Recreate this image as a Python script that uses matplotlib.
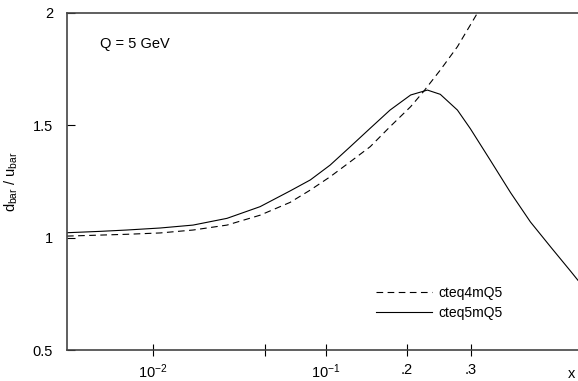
import numpy as np
import matplotlib
matplotlib.use("Agg")
import matplotlib.pyplot as plt

plt.rcParams['font.family'] = ['Liberation Sans', 'DejaVu Sans']
plt.rcParams['mathtext.default'] = 'regular'
plt.rcParams['axes.unicode_minus'] = False

# d_bar/u_bar at Q = 5 GeV
x_cteq4m = [0.0025, 0.0066, 0.0112, 0.0185, 0.0302, 0.047, 0.0677, 0.0848,
            0.104, 0.126, 0.15, 0.176, 0.205, 0.224, 0.25, 0.2775, 0.304, 0.32]
r_cteq4m = [1.007, 1.015, 1.021, 1.034, 1.056, 1.10, 1.157, 1.212,
            1.271, 1.338, 1.405, 1.494, 1.583, 1.65, 1.746, 1.85, 1.969, 2.04]

x_cteq5m = [0.0025, 0.00428, 0.0066, 0.0112, 0.0185, 0.0302, 0.047, 0.0677,
            0.0848, 0.104, 0.126, 0.15, 0.176, 0.205, 0.23, 0.25, 0.2775,
            0.299, 0.333, 0.369, 0.405, 0.444, 0.481, 0.495]
r_cteq5m = [1.022, 1.028, 1.034, 1.043, 1.056, 1.086, 1.138, 1.208,
            1.257, 1.323, 1.405, 1.487, 1.568, 1.635, 1.657, 1.638, 1.568,
            1.485, 1.345, 1.20, 1.07, 0.955, 0.85, 0.81]

xticks = [0.01, 0.05, 0.1, 0.2, 0.3]
xticklabels = ['$10^{-2}$', '', '$10^{-1}$', '.2', '.3']
yticks = [0.5, 1, 1.5, 2]
yticklabels = ['0.5', '1', '1.5', '2']

# x axis: log10(x) + a*x (log at small x, stretched at large x)
A = 2.87
grid = np.logspace(-5, 0.3, 6000)


def fwd(x):
    x = np.clip(np.asarray(x, dtype=float), 1e-6, None)
    return np.log10(x) + A * x


def inv(y):
    return np.interp(y, fwd(grid), grid)


fig = plt.figure(figsize=(5.78, 3.81), dpi=100)
ax = fig.add_axes([67/578, 1 - 350/381, 1 - 67/578, (350 - 13)/381])

ax.set_xscale('function', functions=(fwd, inv))
ax.plot(x_cteq4m, r_cteq4m, color='black', lw=0.8, ls=(0, (6, 4)), label='cteq4mQ5')
ax.plot(x_cteq5m, r_cteq5m, color='black', lw=0.8, label='cteq5mQ5')

ax.set_xlim(0.0025, 0.495)
ax.set_ylim(0.5, 2)
ax.set_xticks(xticks)
ax.set_xticklabels(xticklabels)
ax.xaxis.set_minor_locator(matplotlib.ticker.NullLocator())
ax.set_yticks(yticks)
ax.set_yticklabels(yticklabels)
ax.tick_params(axis='x', direction='inout', length=8, width=0.8, pad=5, labelsize=10.5)
ax.tick_params(axis='y', direction='in', length=6, width=0.8, pad=10, labelsize=10.5)

ax.spines['right'].set_visible(False)
for s in ['left', 'bottom', 'top']:
    ax.spines[s].set_color('#444444')
    ax.spines[s].set_linewidth(1.2)

ax.set_ylabel('$d_{bar}$ / $u_{bar}$', fontsize=10.5, labelpad=9)
ax.text(100/578, 1 - 44/381, 'Q = 5 GeV', transform=fig.transFigure,
        fontsize=10.5, va='center', ha='left')
fig.text(568/578, 1 - 367/381, 'x', fontsize=10.5, va='top', ha='left')

ax.legend(loc='upper left', bbox_to_anchor=(376/578, 1 - 286/381),
          bbox_transform=fig.transFigure, frameon=False, fontsize=10,
          handlelength=4.0, handletextpad=0.5, labelspacing=0.45,
          borderpad=0, borderaxespad=0)

fig.savefig('out.png', dpi=100)
